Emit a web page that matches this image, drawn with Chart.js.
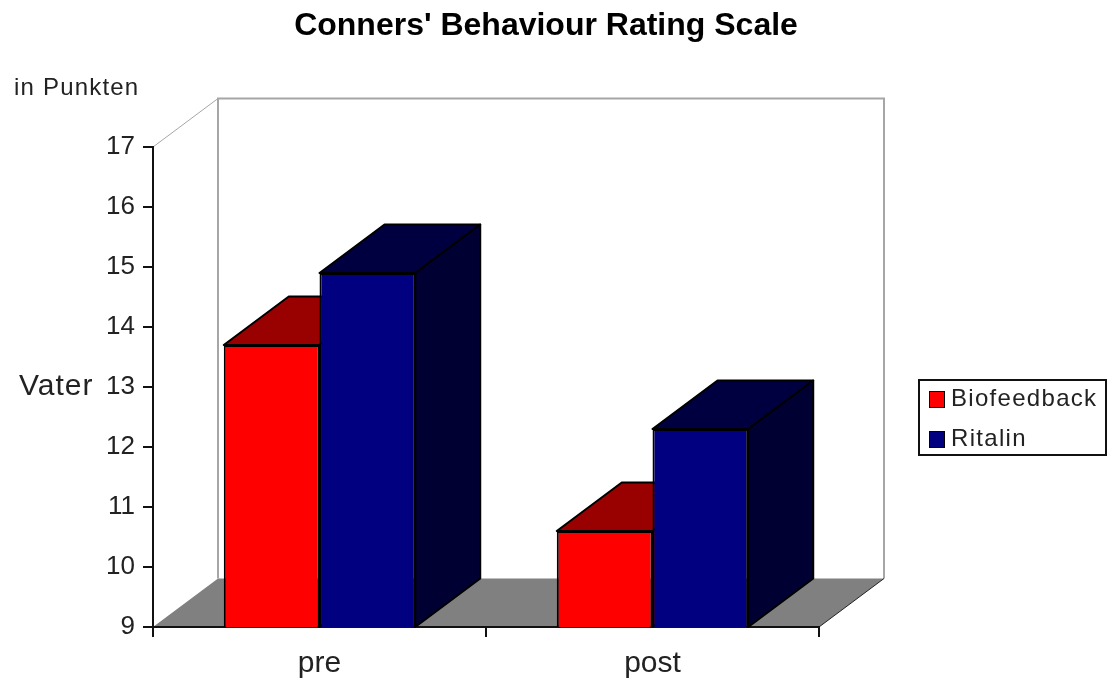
<!DOCTYPE html>
<html>
<head>
<meta charset="utf-8">
<script src="https://cdn.jsdelivr.net/npm/chart.js@4"></script>
<style>
  body { margin: 0; background: #fff; font-family: "Liberation Sans", sans-serif; color: #222; }
  #wrap { position: relative; width: 1113px; height: 691px; overflow: hidden; }
  .note { position: absolute; white-space: nowrap; }
  #unit { left: 14px; top: 73px; font-size: 24px; letter-spacing: 1.2px; }
  #person { left: 19px; top: 368px; font-size: 30px; letter-spacing: 1px; }
  #legend { position: absolute; left: 918px; top: 379px; width: 185px; height: 73px; border: 2px solid #111; }
  #legend ul { list-style: none; margin: 0; padding: 0; }
  #legend li { position: absolute; left: 9px; font-size: 24px; letter-spacing: 1.3px; line-height: 28px; white-space: nowrap; }
  #legend li:nth-child(1) { top: 3px; }
  #legend li:nth-child(2) { top: 43px; }
  #legend span { display: inline-block; width: 14px; height: 15px; border: 1px solid #000; margin-right: 6px; vertical-align: -2px; }
</style>
</head>
<body>
<div id="wrap">
  <canvas id="chart" width="1113" height="691"></canvas>
  <div class="note" id="unit">in Punkten</div>
  <div class="note" id="person">Vater</div>
  <div id="legend"></div>
</div>
<script>
const categories = ["pre", "post"];
const biofeedback = [13.7, 10.6];
const ritalin = [14.9, 12.3];

const depthX = 65;
const depthY = 48.5;

// walls and floor sit behind the axes
const room = {
  id: "room",
  beforeDraw(chart) {
    const { ctx, chartArea: a } = chart;
    ctx.save();
    ctx.fillStyle = "#808080";
    ctx.beginPath();
    ctx.moveTo(a.left, a.bottom);
    ctx.lineTo(a.left + depthX, a.bottom - depthY);
    ctx.lineTo(a.right + depthX, a.bottom - depthY);
    ctx.lineTo(a.right, a.bottom);
    ctx.closePath();
    ctx.fill();

    ctx.strokeStyle = "#a6a6a6";
    ctx.lineWidth = 2;
    ctx.beginPath();
    ctx.moveTo(a.left + depthX, a.bottom - depthY);
    ctx.lineTo(a.left + depthX, a.top - depthY);
    ctx.lineTo(a.right + depthX, a.top - depthY);
    ctx.lineTo(a.right + depthX, a.bottom - depthY);
    ctx.stroke();
    ctx.lineWidth = 1;
    ctx.beginPath();
    ctx.moveTo(a.left, a.top);
    ctx.lineTo(a.left + depthX, a.top - depthY);
    ctx.stroke();

    ctx.strokeStyle = "#222";
    ctx.beginPath();
    ctx.moveTo(a.right, a.bottom);
    ctx.lineTo(a.right + depthX, a.bottom - depthY);
    ctx.stroke();
    ctx.restore();
  },
};

// top and side faces, taken from the bars the library laid out
const bars3d = {
  id: "bars3d",
  beforeDatasetsDraw(chart) {
    const { ctx, chartArea } = chart;
    ctx.save();
    ctx.strokeStyle = "#000";
    ctx.lineWidth = 2;
    ctx.lineJoin = "round";
    chart.data.datasets.forEach(function (ds, i) {
      chart.getDatasetMeta(i).data.forEach(function (bar) {
        const { x, y, base, width } = bar.getProps(["x", "y", "base", "width"]);
        const bottom = Math.min(base, chartArea.bottom); // axis starts at 9, not 0
        const l = x - width / 2;
        const r = x + width / 2;
        ctx.fillStyle = ds.topColor;
        ctx.beginPath();
        ctx.moveTo(l, y);
        ctx.lineTo(l + depthX, y - depthY);
        ctx.lineTo(r + depthX, y - depthY);
        ctx.lineTo(r, y);
        ctx.closePath();
        ctx.fill();
        ctx.stroke();
        ctx.fillStyle = ds.sideColor;
        ctx.beginPath();
        ctx.moveTo(r, y);
        ctx.lineTo(r + depthX, y - depthY);
        ctx.lineTo(r + depthX, bottom - depthY);
        ctx.lineTo(r, bottom);
        ctx.closePath();
        ctx.fill();
        ctx.stroke();
      });
    });
    ctx.restore();
  },
};

// the title is centred over the whole picture, not over the plot
const titleShift = {
  id: "titleShift",
  afterLayout(chart) {
    chart.titleBlock.left = 273;
    chart.titleBlock.right = 819;
  },
};

let chart = new Chart(document.getElementById("chart").getContext("2d"), {
  type: "bar",
  data: {
    labels: categories,
    datasets: [
      { label: "Biofeedback", data: biofeedback, backgroundColor: "#ff0000", topColor: "#990000", sideColor: "#990000" },
      { label: "Ritalin", data: ritalin, backgroundColor: "#000080", topColor: "#000040", sideColor: "#000033" },
    ],
  },
  plugins: [room, bars3d, titleShift],
  options: {
    responsive: false,
    animation: false,
    devicePixelRatio: 1,
    layout: { padding: { left: 0, right: 294, top: 0, bottom: 0 } },
    datasets: {
      bar: {
        categoryPercentage: 0.575,
        barPercentage: 1,
        borderColor: "#000",
        borderWidth: 2,
      },
    },
    plugins: {
      legend: { display: false },
      tooltip: { enabled: false },
      title: {
        display: true,
        text: "Conners' Behaviour Rating Scale",
        color: "#000",
        font: { family: "Liberation Sans", size: 32, weight: "bold", lineHeight: 1.2 },
        padding: { top: 7, bottom: 101.6 },
      },
    },
    scales: {
      x: {
        afterFit(axis) { axis.height = 64; },
        border: { display: true, color: "#111", width: 2 },
        grid: { offset: true, drawOnChartArea: false, drawTicks: true, tickLength: 10, color: "#111", lineWidth: 2 },
        ticks: { color: "#222", font: { family: "Liberation Sans", size: 30 }, padding: 9, maxRotation: 0 },
      },
      y: {
        min: 9,
        max: 17,
        afterFit(axis) { axis.width = 153; },
        border: { display: true, color: "#111", width: 2 },
        grid: { drawOnChartArea: false, drawTicks: true, tickLength: 10, color: "#111", lineWidth: 2 },
        ticks: { stepSize: 1, color: "#222", font: { family: "Liberation Sans", size: 26 }, padding: 8 },
      },
    },
  },
});

let customLegend = function (chart) {
  let ul = document.createElement("ul");
  chart.data.datasets.forEach(function (ds) {
    ul.innerHTML += `<li><span style="background-color: ${ds.backgroundColor}"></span>${ds.label}</li>`;
  });
  return ul.outerHTML;
};

document.getElementById("legend").innerHTML = customLegend(chart);
</script>
</body>
</html>
